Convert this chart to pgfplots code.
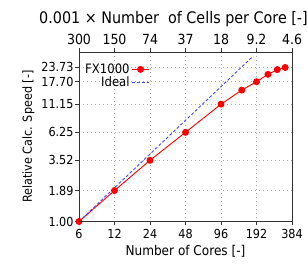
\documentclass[border=0pt]{standalone}
\usepackage{pgfplots}
\pgfplotsset{compat=1.18}
\usepackage{fontspec}
\setmainfont{DejaVu Sans Condensed}
\definecolor{idealblue}{RGB}{70,70,255}
\definecolor{fxred}{RGB}{255,0,0}
\begin{document}
\begin{tikzpicture}
\path[use as bounding box] (-79bp,-42.5bp) rectangle (228bp,221.5bp);
\begin{axis}[
  at={(0,0)}, anchor=south west,
  scale only axis, width=213bp, height=169.5bp,
  xmode=log, ymode=log, log basis x=2, log basis y=2,
  xmin=6, xmax=384, ymin=1, ymax=32.6,
  xtick={6,12,24,48,96,192,384},
  xticklabels={6,12,24,48,96,192,384},
  ytick={1,1.89,3.52,6.25,11.15,17.70,23.73},
  yticklabels={1.00,1.89,3.52,6.25,11.15,17.70,23.73},
  minor xtick={}, minor ytick={},
  xtick pos=left, ytick pos=left,
  tick align=outside,
  major tick length=4bp,
  axis line style={black!80, line width=0.8pt},
  tick style={black!80, line width=0.8pt},
  grid=major,
  major grid style={dash pattern=on 1bp off 3bp, gray!70, line width=0.8pt},
  xlabel={Number of Cores [-]},
  ylabel={Relative Calc. Speed [-]},
  tick label style={font=\fontsize{12.5}{14}\selectfont},
  yticklabel style={xshift=2bp},
  xlabel style={font=\fontsize{13.5}{15}\selectfont},
  ylabel style={font=\fontsize{12.5}{14}\selectfont},
  legend style={draw=none, fill=none, at={(axis description cs:0.005,0.955)}, anchor=north west,
    font=\fontsize{13}{14}\selectfont, row sep=-2bp},
  legend cell align=right,
  legend plot pos=right,
]
\addplot[fxred, line width=0.9pt, mark=*, mark size=3bp, mark options={solid, fill=fxred}]
  coordinates {(6,1.00)(12,1.89)(24,3.52)(48,6.25)(96,11.15)(144,14.9)(192,17.70)(240,20.6)(288,22.7)(336,23.73)};
\addplot[idealblue, line width=0.9pt, dash pattern=on 3bp off 2bp]
  coordinates {(6,1)(180,30)};
\legend{FX1000,Ideal}
\end{axis}
\begin{axis}[
  at={(0,0)}, anchor=south west,
  scale only axis, width=213bp, height=169.5bp,
  xmode=log, log basis x=2,
  xmin=6, xmax=384, ymin=0, ymax=1,
  xtick={6,12,24,48,96,192,384},
  xticklabels={300,150,74,37,18,9.2,4.6},
  minor xtick={},
  ytick=\empty,
  xtick pos=right,
  tick align=outside,
  major tick length=4bp,
  axis line style={black!80, line width=0.8pt},
  tick style={black!80, line width=0.8pt},
  tick label style={font=\fontsize{14}{16}\selectfont},
  xlabel={0.001 × Number~ of Cells per Core [-]},
  xlabel style={font=\fontsize{16}{18}\selectfont, xshift=-12bp},
]
\end{axis}
\end{tikzpicture}
\end{document}
